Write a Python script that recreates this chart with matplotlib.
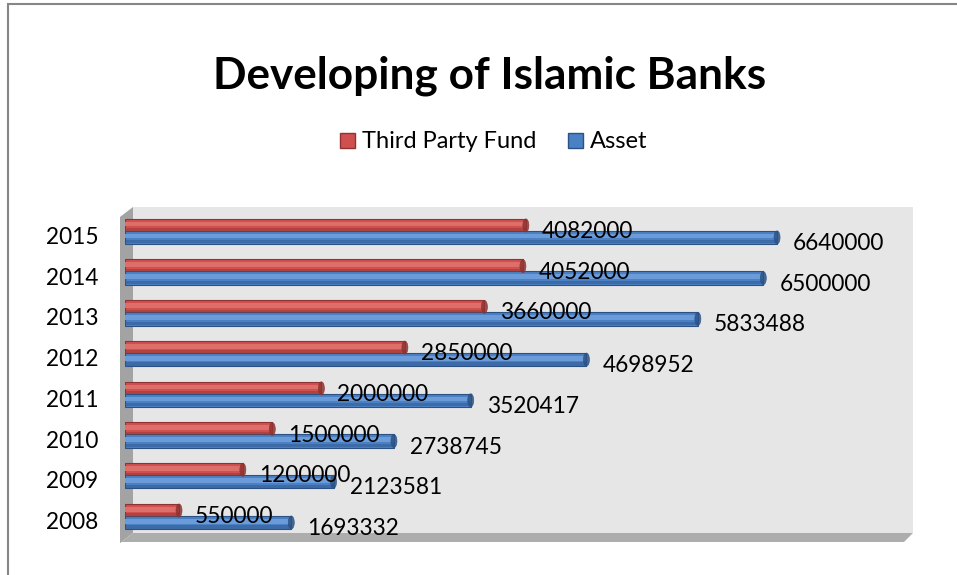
import matplotlib
matplotlib.use("Agg")
import matplotlib.pyplot as plt
from matplotlib.patches import Rectangle, Polygon, Ellipse

years = ["2008", "2009", "2010", "2011", "2012", "2013", "2014", "2015"]
third_party_fund = [550000, 1200000, 1500000, 2000000, 2850000, 3660000, 4052000, 4082000]
asset = [1693332, 2123581, 2738745, 3520417, 4698952, 5833488, 6500000, 6640000]
series_names = ["Third Party Fund", "Asset"]

W, H = 957, 575
FONT = "Lato"
plt.rcParams["font.family"] = [FONT, "DejaVu Sans"]

fig = plt.figure(figsize=(W / 100, H / 100), dpi=100)
fig.patch.set_facecolor("white")


def fx(px):
    return px / W


def fy(py):
    return 1 - py / H


def add_poly(pts, color, z=-10):
    p = Polygon([(fx(x), fy(y)) for x, y in pts], closed=True, transform=fig.transFigure,
                facecolor=color, edgecolor="none", zorder=z)
    fig.add_artist(p)


# chart frame
frame = Rectangle((fx(8), fy(1000)), fx(1500), 996 / H, transform=fig.transFigure,
                  facecolor="none", edgecolor="#868686", lw=1.5, zorder=-9)
fig.add_artist(frame)

# 3D-ish walls
add_poly([(133, 207), (913, 207), (913, 533), (133, 533)], "#E6E6E6")
add_poly([(120, 217), (133, 207), (133, 533), (120, 543)], "#A3A3A3")
add_poly([(120, 543), (133, 533), (913, 533), (904, 542), (120, 542)], "#ADADAD")

ax = fig.add_axes([fx(125), fy(533), (910.6 - 125) / W, (533 - 207) / H])
ax.set_facecolor("none")
ax.set_zorder(1)
ax.set_xlim(0, 8e6)
ax.set_ylim(-0.405, 7.6)
for s in ax.spines.values():
    s.set_visible(False)
ax.set_xticks([])

pos = list(range(len(years)))
h = 0.33
off = 0.147
red_main, red_hi, red_dark = "#CF504E", "#DE6E6A", "#8E3331"
blue_main, blue_hi, blue_dark = "#4A80C4", "#6B9BD8", "#2C5285"

y_red = [p + off for p in pos]
y_blue = [p - off for p in pos]
cap_w = 6 / 98.2 * 1e6

for ys, vals, main, hi, dark in [(y_red, third_party_fund, red_main, red_hi, red_dark),
                                  (y_blue, asset, blue_main, blue_hi, blue_dark)]:
    ax.barh(ys, vals, height=h, color=main, edgecolor=dark, linewidth=0.8, zorder=3)
    ax.barh([y + h * 0.1 for y in ys], vals, height=h * 0.35, color=hi, edgecolor="none",
            zorder=4)
    ax.barh([y - h * 0.33 for y in ys], vals, height=h * 0.24, color=dark, alpha=0.45,
            edgecolor="none", zorder=4)
    for y, v in zip(ys, vals):
        ax.add_patch(Ellipse((v, y), cap_w, h * 0.97, facecolor=dark, edgecolor=dark,
                             lw=0.5, alpha=0.85, zorder=5))

for ys, vals in [(y_red, third_party_fund), (y_blue, asset)]:
    for y, v in zip(ys, vals):
        ax.annotate(str(v), xy=(v, y), xytext=(16, -6), textcoords="offset pixels",
                    ha="left", va="center", fontsize=16.3, color="black", zorder=6)

ax.set_yticks([p - 0.1 for p in pos])
ax.set_yticklabels(years, fontsize=16.3)
ax.tick_params(axis="y", length=0, pad=19)

fig.text(fx(490), fy(76), "Developing of Islamic Banks", ha="center", va="center",
         fontsize=31.8, fontweight="bold")

# legend
leg_items = [(340, red_main, red_dark, series_names[0]), (568, blue_main, blue_dark, series_names[1])]
for x0, c, ec, name in leg_items:
    r = Rectangle((fx(x0), fy(148)), 15 / W, 15 / H, transform=fig.transFigure,
                  facecolor=c, edgecolor=ec, lw=1)
    fig.add_artist(r)
    fig.text(fx(x0 + 22), fy(141), name, ha="left", va="center", fontsize=17)

fig.savefig("out.png", dpi=100)
